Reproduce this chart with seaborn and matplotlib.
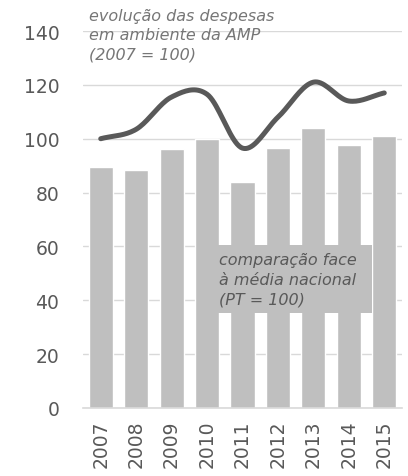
import numpy as np
import pandas as pd
import seaborn as sns
import matplotlib.pyplot as plt
from matplotlib.patches import Rectangle

years = ['2007', '2008', '2009', '2010', '2011', '2012', '2013', '2014', '2015']
comparacao_pt = [89.5, 88.5, 96, 100, 84, 96.5, 104, 97.5, 101]
evolucao_amp = [100, 103.5, 115.5, 116.5, 96.5, 108, 121, 114, 117]

TXT = '#595959'
BAR = '#bfbfbf'


def smooth(x, y, n=20):
    # catmull-rom curve through the points, like a smoothed spreadsheet line
    x = np.asarray(x, float)
    y = np.asarray(y, float)
    px = np.concatenate([[2 * x[0] - x[1]], x, [2 * x[-1] - x[-2]]])
    py = np.concatenate([[2 * y[0] - y[1]], y, [2 * y[-1] - y[-2]]])
    xs, ys = [], []
    for i in range(1, len(px) - 2):
        t = np.linspace(0, 1, n, endpoint=False)
        for p, out in ((px, xs), (py, ys)):
            p0, p1, p2, p3 = p[i - 1], p[i], p[i + 1], p[i + 2]
            out.extend(0.5 * (2 * p1 + (-p0 + p2) * t
                              + (2 * p0 - 5 * p1 + 4 * p2 - p3) * t ** 2
                              + (-p0 + 3 * p1 - 3 * p2 + p3) * t ** 3))
    xs.append(x[-1])
    ys.append(y[-1])
    return np.array(xs), np.array(ys)


sns.set_style('white')
plt.rcParams['font.family'] = ['DejaVu Sans']

df = pd.DataFrame({'ano': years, 'pt': comparacao_pt})

fig = plt.figure(figsize=(4.08, 4.77), dpi=100)
ax = fig.add_axes([83 / 408, 1 - 409 / 477, 319 / 408, 377 / 477])

sns.barplot(data=df, x='ano', y='pt', color=BAR, width=0.68, saturation=1, ax=ax, zorder=2)

lx, ly = smooth(np.arange(len(years)), evolucao_amp)
ax.plot(lx, ly, color=TXT, lw=3.6, solid_capstyle='round', zorder=4)

ax.set_ylim(0, 140)
ax.set_xlim(-0.5, len(years) - 0.5)
ax.set_yticks(range(0, 141, 20))
ax.yaxis.grid(True, color='#d9d9d9', lw=1)
ax.set_axisbelow(True)
for s in ['top', 'right', 'left']:
    ax.spines[s].set_visible(False)
ax.spines['bottom'].set_color('#d9d9d9')
ax.spines['bottom'].set_linewidth(1.2)
ax.tick_params(axis='y', length=0, labelsize=13.5, colors=TXT, pad=17)
ax.tick_params(axis='x', length=0, labelsize=13.5, colors=TXT, rotation=90, pad=8)
ax.set_xlabel('')
ax.set_ylabel('')

fig.text(89 / 408, 1 - 9 / 477, 'evolução das despesas\nem ambiente da AMP\n(2007 = 100)',
         ha='left', va='top', style='italic',
         fontsize=11.5, color='#767676', linespacing=1.35, zorder=5)

# grey label box over the bars
ax.add_patch(Rectangle((3.28, 35.3), 4.37, 25.3, fc=BAR, ec='none', zorder=3))
ax.text(3.33, 58.0, 'comparação face\nà média nacional\n(PT = 100)',
        ha='left', va='top', style='italic',
        fontsize=11.5, color=TXT, linespacing=1.4, zorder=5)

fig.savefig('out.png', dpi=100)
